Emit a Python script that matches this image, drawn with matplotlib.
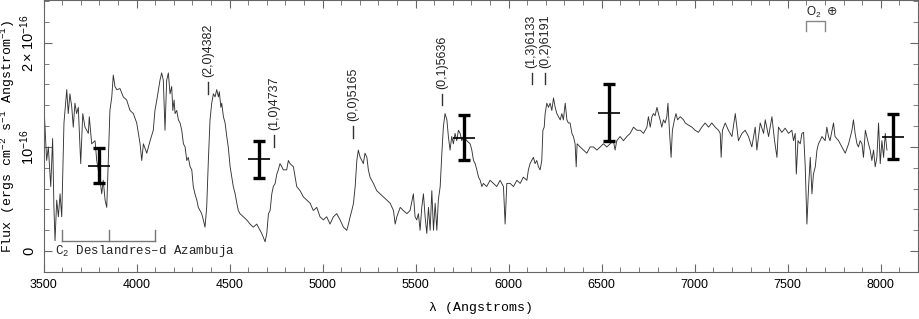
import numpy as np
import matplotlib
matplotlib.use('Agg')
import matplotlib.pyplot as plt
from matplotlib.ticker import MultipleLocator, FixedLocator, FixedFormatter

plt.rcParams['mathtext.fontset'] = 'custom'
plt.rcParams['mathtext.rm'] = 'Liberation Mono'
plt.rcParams['mathtext.sf'] = 'Liberation Sans'

# spectrum (flux in units of 1e-16)
wave = [
    3500, 3508, 3517, 3526, 3539, 3549, 3556, 3562, 3571, 3580,
    3589, 3598, 3610, 3625, 3633, 3642, 3652, 3660, 3669, 3678,
    3687, 3700, 3711, 3723, 3741, 3746, 3759, 3777, 3786, 3804,
    3813, 3821, 3831, 3840, 3848, 3857, 3867, 3875, 3884, 3894,
    3911, 3929, 3947, 3965, 3983, 4001, 4019, 4028, 4037, 4055,
    4073, 4090, 4099, 4109, 4126, 4135, 4144, 4153, 4162, 4171,
    4180, 4189, 4195, 4202, 4207, 4216, 4225, 4234, 4243, 4252,
    4261, 4270, 4278, 4288, 4297, 4305, 4314, 4324, 4332, 4341,
    4350, 4359, 4368, 4377, 4386, 4395, 4404, 4413, 4422, 4431,
    4440, 4445, 4453, 4458, 4467, 4476, 4485, 4493, 4503, 4512,
    4520, 4530, 4539, 4547, 4556, 4574, 4592, 4610, 4628, 4646,
    4664, 4673, 4682, 4691, 4700, 4709, 4718, 4727, 4735, 4745,
    4754, 4762, 4771, 4781, 4789, 4807, 4816, 4825, 4843, 4861,
    4879, 4897, 4915, 4933, 4950, 4969, 4986, 5004, 5022, 5040,
    5058, 5076, 5094, 5112, 5130, 5139, 5148, 5157, 5166, 5175,
    5184, 5192, 5202, 5211, 5219, 5228, 5238, 5246, 5255, 5273,
    5291, 5309, 5327, 5345, 5363, 5381, 5390, 5399, 5417, 5434,
    5453, 5470, 5488, 5497, 5506, 5515, 5524, 5533, 5542, 5551,
    5560, 5569, 5578, 5587, 5596, 5605, 5614, 5622, 5632, 5641,
    5649, 5658, 5668, 5676, 5685, 5694, 5703, 5712, 5721, 5730,
    5739, 5748, 5757, 5775, 5793, 5802, 5811, 5820, 5829, 5838,
    5847, 5856, 5864, 5882, 5900, 5918, 5936, 5954, 5972, 5981,
    5990, 6008, 6026, 6044, 6062, 6079, 6098, 6106, 6115, 6124,
    6133, 6142, 6151, 6160, 6169, 6178, 6184, 6191, 6196, 6205,
    6214, 6223, 6232, 6241, 6250, 6259, 6268, 6277, 6286, 6294,
    6304, 6313, 6321, 6330, 6340, 6348, 6357, 6363, 6368, 6384,
    6402, 6420, 6438, 6456, 6474, 6492, 6509, 6528, 6545, 6563,
    6572, 6581, 6599, 6617, 6635, 6653, 6671, 6689, 6707, 6725,
    6743, 6751, 6761, 6770, 6778, 6787, 6797, 6805, 6814, 6823,
    6832, 6841, 6850, 6856, 6863, 6873, 6880, 6891, 6899, 6908,
    6922, 6940, 6949, 6966, 6985, 7002, 7020, 7038, 7056, 7074,
    7092, 7110, 7128, 7137, 7142, 7149, 7164, 7181, 7200, 7218,
    7235, 7254, 7271, 7289, 7307, 7325, 7334, 7352, 7370, 7379,
    7397, 7415, 7429, 7442, 7450, 7468, 7486, 7504, 7522, 7531,
    7540, 7546, 7555, 7567, 7576, 7585, 7594, 7603, 7612, 7621,
    7630, 7638, 7648, 7657, 7665, 7674, 7684, 7701, 7710, 7719,
    7727, 7746, 7754, 7773, 7791, 7809, 7827, 7845, 7853, 7862,
    7872, 7880, 7889, 7899, 7907, 7917, 7925, 7934, 7943, 7952,
    7961, 7970, 7979, 7988, 7997, 8006, 8015, 8024, 8033,
]
flux = [
    1.48, 1.19, 0.87, 1.00, 0.62, 1.08, 0.42, 0.10, 0.49, 0.33,
    0.55, 0.33, 1.23, 1.55, 1.32, 1.51, 1.38, 1.19, 1.42, 1.32,
    1.38, 0.84, 1.32, 1.19, 1.13, 1.29, 1.03, 1.06, 0.87, 0.68,
    0.55, 0.68, 0.49, 0.42, 0.87, 1.35, 1.48, 1.69, 1.58, 1.55,
    1.56, 1.48, 1.45, 1.35, 1.32, 1.23, 1.03, 0.87, 1.03, 0.94,
    1.06, 1.16, 1.35, 1.45, 1.64, 1.71, 1.64, 1.16, 1.64, 1.71,
    1.51, 1.58, 1.35, 1.45, 1.32, 1.35, 1.26, 1.23, 1.16, 1.03,
    1.00, 0.87, 0.90, 0.81, 0.78, 0.62, 0.55, 0.49, 0.42, 0.39,
    0.36, 0.30, 0.23, 0.42, 0.87, 1.26, 1.42, 1.51, 1.48, 1.55,
    1.48, 1.53, 1.38, 1.42, 1.29, 1.23, 1.10, 1.00, 0.81, 0.71,
    0.62, 0.55, 0.46, 0.39, 0.36, 0.33, 0.30, 0.26, 0.23, 0.26,
    0.20, 0.17, 0.13, 0.09, 0.17, 0.36, 0.39, 0.55, 0.62, 0.65,
    0.74, 0.78, 0.84, 0.81, 0.78, 0.78, 0.87, 0.84, 0.81, 0.62,
    0.58, 0.52, 0.49, 0.46, 0.39, 0.42, 0.33, 0.30, 0.33, 0.26,
    0.33, 0.36, 0.30, 0.23, 0.20, 0.26, 0.33, 0.39, 0.46, 0.62,
    0.87, 0.97, 0.90, 0.87, 0.84, 0.94, 0.90, 0.78, 0.71, 0.65,
    0.58, 0.55, 0.52, 0.49, 0.46, 0.39, 0.26, 0.33, 0.42, 0.39,
    0.36, 0.39, 0.55, 0.33, 0.30, 0.36, 0.20, 0.42, 0.55, 0.33,
    0.17, 0.42, 0.20, 0.58, 0.20, 0.46, 0.20, 0.49, 0.62, 0.94,
    1.19, 1.32, 1.26, 1.10, 0.97, 1.10, 1.03, 1.13, 1.06, 1.16,
    1.13, 1.06, 1.10, 1.06, 1.03, 0.97, 0.87, 0.84, 0.78, 0.71,
    0.68, 0.62, 0.65, 0.62, 0.68, 0.65, 0.62, 0.68, 0.62, 0.26,
    0.65, 0.65, 0.62, 0.68, 0.65, 0.71, 0.68, 0.78, 0.84, 0.87,
    0.90, 0.84, 0.87, 0.81, 0.78, 0.87, 1.16, 1.19, 1.32, 1.42,
    1.38, 1.42, 1.35, 1.47, 1.38, 1.32, 1.29, 1.26, 1.32, 1.26,
    1.42, 1.26, 1.23, 1.23, 1.13, 1.10, 1.03, 0.81, 1.03, 1.00,
    0.97, 0.94, 1.00, 1.00, 0.97, 1.00, 1.03, 1.00, 1.03, 1.06,
    0.97, 1.06, 1.10, 1.06, 1.10, 1.13, 1.19, 1.16, 1.16, 1.13,
    1.19, 1.29, 1.19, 1.29, 1.32, 1.30, 1.38, 1.32, 1.26, 1.19,
    1.26, 1.23, 1.29, 1.42, 1.19, 0.90, 1.16, 1.26, 1.32, 1.26,
    1.29, 1.26, 1.23, 1.21, 1.19, 1.16, 1.14, 1.19, 1.23, 1.19,
    1.23, 1.19, 1.16, 1.13, 0.90, 1.16, 1.23, 1.16, 1.10, 1.32,
    1.06, 1.13, 1.16, 1.10, 1.00, 1.19, 0.97, 1.23, 1.13, 1.26,
    1.10, 1.29, 1.06, 0.90, 1.19, 1.14, 1.18, 1.13, 1.16, 1.06,
    1.13, 0.74, 1.06, 1.03, 1.13, 1.14, 0.81, 0.26, 0.62, 0.90,
    0.55, 0.74, 0.81, 0.97, 1.03, 1.06, 1.10, 1.06, 1.19, 1.10,
    1.06, 1.23, 1.10, 1.06, 1.00, 0.94, 1.03, 1.16, 1.26, 1.13,
    1.03, 1.00, 1.06, 1.03, 0.90, 1.16, 1.10, 1.03, 0.97, 0.87,
    0.97, 0.81, 0.90, 1.23, 0.84, 1.06, 0.90, 1.13, 0.97,
]

# photometric points with error bars
eb_wave = [3800, 4660, 5760, 6540, 8065]
eb_flux = [0.82, 0.88, 1.09, 1.33, 1.10]
eb_ferr = [0.17, 0.18, 0.22, 0.27, 0.22]
eb_werr = 60

# C2 band heads
band_names = ['(2,0)4382', '(1,0)4737', '(0,0)5165', '(0,1)5636', '(1,3)6133', '(0,2)6191']
band_wave = [4386, 4739, 5166, 5641, 6124, 6196]
band_ybot = [1.51, 1.00, 1.09, 1.40, 1.60, 1.60]
mark_len = 0.11

# Deslandres-d'Azambuja band bracket
swan_ticks = [3600, 3850, 4100]
# telluric O2 bracket
o2_range = [7600, 7700]

fig = plt.figure(figsize=(9.19, 3.19), dpi=100)
ax = fig.add_axes([43.5 / 919, 47 / 319, 874.5 / 919, 272 / 319])

ax.plot(wave, flux, color='#333333', lw=0.65)

ax.errorbar(eb_wave, eb_flux, yerr=eb_ferr, fmt='none', ecolor='black',
            elinewidth=2.4, capsize=4.5, capthick=2.4)
ax.errorbar(eb_wave, eb_flux, xerr=eb_werr, fmt='none', ecolor='black',
            elinewidth=1.2, capsize=0)

for name, w, yb in zip(band_names, band_wave, band_ybot):
    ax.plot([w, w], [yb, yb + mark_len], color='#333333', lw=1.0)
    ax.text(w, yb + mark_len + 0.05, name, rotation=90, ha='center', va='bottom',
            fontsize=9, family='Liberation Sans', color='#222222')

# C2 bracket
ax.plot([swan_ticks[0], swan_ticks[-1]], [0.10, 0.10], color='#777777', lw=1.0)
for t in swan_ticks:
    ax.plot([t, t], [0.10, 0.20], color='#777777', lw=1.0)
ax.text(3562, 0.0, r'C$_2$ Deslandres–d Azambuja', ha='left', va='center',
        fontsize=9, family='Liberation Mono', color='#222222')

# O2 telluric
ax.plot([o2_range[0], o2_range[0], o2_range[1], o2_range[1]],
        [2.115, 2.21, 2.21, 2.115], color='#888888', lw=1.0)
ax.text(o2_range[0], 2.29, r'O$_\mathsf{2}$', ha='left', va='center', fontsize=8.5,
        family='Liberation Sans', color='#222222')
ax.text(7708, 2.30, '⊕', ha='left', va='center', fontsize=9,
        family='DejaVu Sans', color='#333333')

ax.set_xlim(3500, 8200)
ax.set_ylim(-0.2, 2.41)
ax.xaxis.set_major_locator(MultipleLocator(500))
ax.xaxis.set_minor_locator(MultipleLocator(100))
ax.yaxis.set_major_locator(FixedLocator([0, 1, 2]))
ax.yaxis.set_major_formatter(FixedFormatter(['0', r'$\mathsf{10^{-16}}$', r'$\mathsf{2\times10^{-16}}$']))
ax.yaxis.set_minor_locator(MultipleLocator(0.2))
ax.tick_params(which='both', direction='in', top=True, right=True, color='#666666')
ax.tick_params(which='major', length=6)
ax.tick_params(which='minor', length=3.5)
ax.tick_params(axis='x', labelsize=9, pad=5)
ax.tick_params(axis='y', labelsize=10.5, pad=5, labelrotation=90)
for lab in ax.get_xticklabels() + ax.get_yticklabels():
    lab.set_family('Liberation Sans')
for lab in ax.get_yticklabels():
    lab.set_va('center')
for sp in ax.spines.values():
    sp.set_color('#666666')

ax.set_xlabel('λ (Angstroms)', fontsize=9.5, family='Liberation Mono', labelpad=8)
ax.set_ylabel(r'Flux (ergs cm$^{-2}$ s$^{-1}$ Angstrom$^{-1}$)', fontsize=9.5,
              family='Liberation Mono', labelpad=1)

fig.savefig('out.png', dpi=100)
